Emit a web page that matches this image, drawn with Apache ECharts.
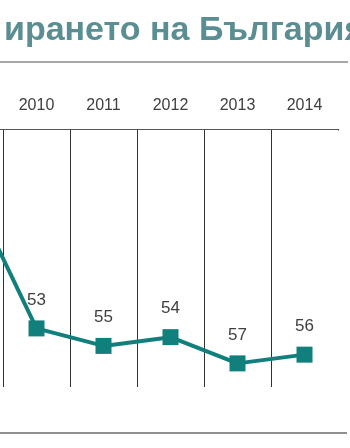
<!DOCTYPE html>
<html>
<head>
<meta charset="utf-8">
<script src="https://cdn.jsdelivr.net/npm/echarts@6/dist/echarts.min.js"></script>
<style>
  html, body { margin: 0; padding: 0; background: #fff; overflow: hidden; }
  /* графиката е по-широка и изместена наляво, за да се вижда само линията от 2009 */
  #chart { width: 414px; height: 448px; margin-left: -64px; }
</style>
</head>
<body>
<div id="chart"></div>
<script>
// години (2009 е извън кадъра, вижда се само линията към 2010)
var years = ['2009', '2010', '2011', '2012', '2013', '2014']
// място в класацията
var rank = [37, 53, 55, 54, 57, 56]
var titleText = 'ирането на България'

var shift = 64
var dom = document.getElementById('chart')
var myChart = echarts.init(dom)

var option = {
    animation: false,
    title: {
        text: titleText,
        left: shift - 1,
        top: 9,
        textStyle: {
            fontFamily: 'Liberation Sans',
            fontWeight: 'bold',
            fontSize: 34,
            color: '#5a8e92'
        }
    },
    graphic: [
        { type: 'line', shape: { x1: shift, y1: 62, x2: shift + 348, y2: 62 }, style: { stroke: '#8a8a8a', lineWidth: 1.5 } },
        { type: 'line', shape: { x1: shift, y1: 433, x2: shift + 347, y2: 433 }, style: { stroke: '#222', lineWidth: 1.2 } },
        // последната вертикална линия вдясно я няма в оригинала
        { type: 'line', z: 100, shape: { x1: shift + 338, y1: 130.5, x2: shift + 338, y2: 390 }, style: { stroke: '#fff', lineWidth: 3 } }
    ],
    grid: {
        left: 0,
        right: 12,
        top: 129,
        bottom: 61
    },
    xAxis: {
        type: 'category',
        position: 'top',
        boundaryGap: true,
        data: years,
        axisLine: { lineStyle: { color: '#555', width: 1 } },
        axisTick: { alignWithLabel: true, length: 4, lineStyle: { color: '#555' } },
        axisLabel: {
            margin: 15,
            fontFamily: 'Liberation Sans',
            fontSize: 16,
            color: '#404040'
        },
        splitLine: { show: true, lineStyle: { color: '#333', width: 1 } }
    },
    yAxis: {
        type: 'value',
        inverse: true,
        min: 30.2,
        max: 59.7,
        show: false,
        splitLine: { show: false }
    },
    series: [
        {
            type: 'line',
            data: rank,
            symbol: 'rect',
            symbolSize: 16,
            lineStyle: { color: '#117f7b', width: 4 },
            itemStyle: { color: '#117f7b' },
            label: {
                show: true,
                position: 'top',
                distance: 12,
                fontFamily: 'Liberation Sans',
                fontSize: 17,
                color: '#404040'
            }
        }
    ]
}
myChart.setOption(option)
</script>
</body>
</html>
